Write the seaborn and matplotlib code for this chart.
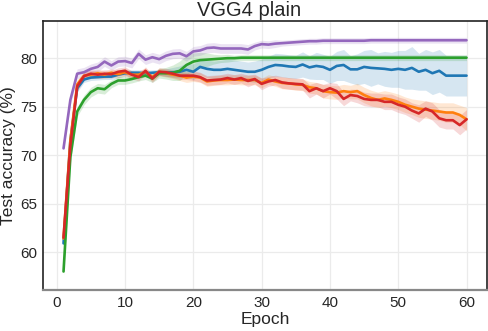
import numpy as np
import pandas as pd
import matplotlib
matplotlib.use('Agg')
import matplotlib.pyplot as plt
import seaborn as sns

epochs = list(range(1, 61))

acc_blue = [60.9, 71.5, 76.9, 77.8, 78.0, 78.05, 78.1, 78.1, 78.3, 78.45,
            78.5, 78.5, 78.45, 78.5, 78.55, 78.5, 78.55, 78.6, 78.8, 78.6,
            79.1, 78.9, 78.8, 78.8, 78.9, 78.8, 78.7, 78.6, 78.6, 78.8,
            79.1, 79.3, 79.25, 79.15, 79.1, 79.35, 79.05, 79.2, 79.1, 78.8,
            79.2, 79.3, 78.85, 78.85, 79.1, 79.0, 78.95, 78.9, 78.8, 78.9,
            78.8, 79.0, 78.6, 78.8, 78.45, 78.7, 78.2, 78.2, 78.2, 78.2]
sd_blue = [0.2, 0.4, 0.4, 0.3, 0.3, 0.3, 0.3, 0.3, 0.3, 0.3,
           0.3, 0.3, 0.3, 0.3, 0.3, 0.4, 0.5, 0.6, 0.7, 0.8,
           0.8, 0.9, 0.9, 1.0, 1.0, 1.0, 1.0, 1.0, 1.1, 1.1,
           1.1, 1.2, 1.2, 1.2, 1.2, 1.3, 1.2, 1.4, 1.3, 1.4,
           1.5, 1.6, 1.4, 1.6, 1.7, 1.9, 1.6, 1.8, 1.8, 1.9,
           2.0, 2.2, 1.9, 2.1, 2.2, 2.2, 2.1, 2.1, 2.1, 2.1]

acc_orange = [61.4, 71.5, 77.3, 78.2, 78.3, 78.45, 78.3, 78.5, 78.35, 78.55,
              78.3, 78.3, 78.6, 78.05, 78.6, 78.45, 78.3, 78.2, 78.0, 78.1,
              78.0, 77.6, 77.7, 77.75, 77.75, 77.8, 77.75, 77.75, 77.75, 77.45,
              77.8, 77.6, 77.45, 77.4, 77.3, 77.25, 77.0, 76.9, 76.6, 76.5,
              76.45, 76.6, 76.5, 76.6, 76.2, 75.9, 75.7, 75.85, 75.7, 75.5,
              75.2, 75.0, 74.8, 74.7, 74.6, 74.5, 74.4, 74.4, 74.15, 73.7]
sd_orange = [0.3, 0.6, 0.5, 0.4, 0.4, 0.4, 0.4, 0.4, 0.4, 0.4,
             0.4, 0.4, 0.4, 0.4, 0.4, 0.4, 0.4, 0.5, 0.5, 0.5,
             0.5, 0.5, 0.5, 0.5, 0.5, 0.5, 0.5, 0.5, 0.5, 0.5,
             0.5, 0.5, 0.6, 0.6, 0.6, 0.6, 0.6, 0.6, 0.7, 0.7,
             0.7, 0.7, 0.7, 0.8, 0.8, 0.8, 0.8, 0.8, 0.8, 0.8,
             0.8, 0.8, 0.9, 0.9, 0.9, 0.9, 1.0, 1.0, 1.0, 1.2]

acc_green = [58.0, 69.8, 74.5, 75.7, 76.5, 76.9, 76.8, 77.35, 77.7, 77.7,
             77.85, 78.05, 78.2, 77.9, 78.45, 78.45, 78.5, 78.7, 79.3, 79.65,
             79.8, 79.85, 79.9, 79.95, 80.0, 80.0, 80.05, 80.05, 80.05, 80.05,
             80.05, 80.05, 80.05, 80.05, 80.05, 80.05, 80.05, 80.05, 80.05, 80.05,
             80.05, 80.05, 80.05, 80.05, 80.05, 80.05, 80.05, 80.05, 80.05, 80.05,
             80.05, 80.05, 80.05, 80.05, 80.05, 80.05, 80.05, 80.05, 80.05, 80.05]
sd_green = [0.4, 0.6, 0.5, 0.5, 0.5, 0.5, 0.5, 0.4, 0.4, 0.4,
            0.4, 0.4, 0.4, 0.4, 0.5, 0.6, 0.8, 1.0, 1.0, 0.9,
            0.8, 0.7, 0.5, 0.4, 0.4, 0.3, 0.3, 0.3, 0.3, 0.3,
            0.3, 0.3, 0.3, 0.3, 0.3, 0.3, 0.3, 0.3, 0.3, 0.3,
            0.3, 0.3, 0.3, 0.3, 0.3, 0.3, 0.3, 0.3, 0.3, 0.3,
            0.3, 0.3, 0.3, 0.3, 0.3, 0.3, 0.3, 0.3, 0.3, 0.3]

acc_red = [61.5, 71.0, 77.1, 78.15, 78.4, 78.3, 78.4, 78.35, 78.6, 78.7,
           78.3, 78.05, 78.7, 77.9, 78.6, 78.55, 78.4, 78.2, 78.2, 78.2,
           78.05, 77.7, 77.75, 77.8, 77.95, 77.8, 77.95, 77.65, 77.85, 77.35,
           77.6, 77.75, 77.5, 77.4, 77.35, 77.3, 76.6, 76.9, 76.6, 76.9,
           76.6, 75.8, 76.2, 76.1, 75.8, 75.7, 75.7, 75.5, 75.5, 75.2,
           75.0, 74.6, 74.3, 74.8, 74.5, 73.8, 73.6, 73.6, 73.1, 73.7]
sd_red = [0.3, 0.6, 0.5, 0.4, 0.4, 0.4, 0.4, 0.4, 0.4, 0.4,
          0.4, 0.4, 0.4, 0.4, 0.4, 0.4, 0.4, 0.4, 0.4, 0.5,
          0.5, 0.5, 0.5, 0.5, 0.5, 0.5, 0.5, 0.6, 0.5, 0.6,
          0.5, 0.5, 0.6, 0.6, 0.6, 0.6, 0.7, 0.6, 0.7, 0.6,
          0.8, 0.7, 0.6, 0.7, 0.7, 0.7, 0.7, 0.8, 0.8, 0.8,
          0.8, 0.8, 0.9, 0.8, 0.9, 0.9, 0.9, 0.9, 1.0, 1.0]

acc_purple = [70.7, 75.7, 78.4, 78.55, 78.9, 79.1, 79.65, 79.25, 79.65, 79.7,
              79.5, 80.45, 79.85, 80.1, 79.9, 80.25, 80.45, 80.5, 80.2, 80.7,
              80.8, 81.05, 81.1, 81.0, 81.0, 81.0, 81.0, 80.9, 81.25, 81.45,
              81.4, 81.5, 81.55, 81.6, 81.65, 81.7, 81.75, 81.75, 81.8, 81.8,
              81.8, 81.8, 81.8, 81.8, 81.8, 81.85, 81.85, 81.85, 81.85, 81.85,
              81.85, 81.85, 81.85, 81.85, 81.85, 81.85, 81.85, 81.85, 81.85, 81.85]
sd_purple = [0.2, 0.5, 0.5, 0.5, 0.5, 0.5, 0.5, 0.5, 0.5, 0.5,
             0.5, 0.5, 0.5, 0.5, 0.5, 0.5, 0.5, 0.5, 0.5, 0.5,
             0.5, 0.5, 0.5, 0.5, 0.5, 0.5, 0.5, 0.5, 0.4, 0.4,
             0.4, 0.4, 0.3, 0.3, 0.3, 0.3, 0.3, 0.3, 0.3, 0.3,
             0.3, 0.3, 0.3, 0.3, 0.3, 0.3, 0.3, 0.3, 0.3, 0.3,
             0.3, 0.3, 0.3, 0.3, 0.3, 0.3, 0.3, 0.3, 0.3, 0.3]

runs = ['blue', 'orange', 'green', 'red', 'purple']
colores = {'blue': '#1f77b4', 'orange': '#ff7f0e', 'green': '#2ca02c',
           'red': '#d62728', 'purple': '#9467bd'}
medias = {'blue': acc_blue, 'orange': acc_orange, 'green': acc_green,
          'red': acc_red, 'purple': acc_purple}
desv = {'blue': sd_blue, 'orange': sd_orange, 'green': sd_green,
        'red': sd_red, 'purple': sd_purple}

sns.set_theme(style='whitegrid')
plt.rcParams['font.family'] = ['Liberation Sans', 'DejaVu Sans']

datos = pd.DataFrame({
    'Epoch': epochs * len(runs),
    'acc': sum([medias[r] for r in runs], []),
    'run': sum([[r] * len(epochs) for r in runs], []),
})

fig = plt.figure(figsize=(4.89, 3.31), dpi=100)
ax = fig.add_axes([0.088, 0.124, 0.908, 0.813])

for r in runs:
    m = np.array(medias[r])
    s = np.array(desv[r])
    ax.fill_between(epochs, m - s, m + s, color=colores[r], alpha=0.18, linewidth=0)

sns.lineplot(data=datos, x='Epoch', y='acc', hue='run', palette=colores,
             hue_order=runs, linewidth=1.9, legend=False, ax=ax)

ax.set_xlim(-2, 63)
ax.set_ylim(56.1, 83.85)
ax.set_xticks([0, 10, 20, 30, 40, 50, 60])
ax.set_yticks([60, 65, 70, 75, 80])
ax.tick_params(labelsize=11, length=0, pad=4)
ax.set_xlabel('Epoch', fontsize=12.5, labelpad=2)
ax.set_ylabel('Test accuracy (%)', fontsize=12.5, labelpad=3)
fig.suptitle('VGG4 plain', fontsize=14.5, x=0.51, y=0.998, va='top')
ax.grid(color='#ebebeb', linewidth=0.9)
for lado in ['left', 'top', 'right']:
    ax.spines[lado].set_color('#222222')
    ax.spines[lado].set_linewidth(1.2)
ax.spines['bottom'].set_color('#888888')
ax.spines['bottom'].set_linewidth(1.6)

plt.savefig('out.png', dpi=100)
